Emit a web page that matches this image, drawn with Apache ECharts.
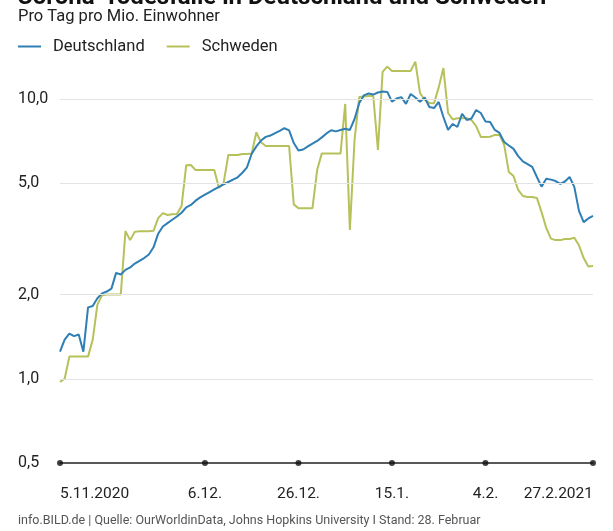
<!DOCTYPE html>
<html><head><meta charset="utf-8">
<script src="https://cdn.jsdelivr.net/npm/echarts@6/dist/echarts.min.js"></script>
<style>html,body{margin:0;padding:0;background:#fff}#c{width:613px;height:531px}</style>
</head><body><div id="c"></div>
<script>
// Days counted from 5.11.2020 (day 0) to 27.2.2021 (day 114)
const seriesNames = ['Deutschland', 'Schweden'];
const deutschland = [
  1.25,1.38,1.45,1.42,1.44,1.25,1.80,1.82,1.94,2.02,
  2.05,2.10,2.39,2.36,2.45,2.50,2.58,2.64,2.70,2.78,
  2.95,3.30,3.50,3.60,3.70,3.80,3.92,4.10,4.18,4.33,
  4.45,4.55,4.65,4.75,4.85,4.95,5.05,5.15,5.25,5.45,
  5.70,6.37,6.77,7.10,7.32,7.40,7.55,7.69,7.86,7.72,
  6.96,6.54,6.60,6.77,6.93,7.08,7.29,7.53,7.73,7.66,
  7.75,7.83,7.75,8.48,9.67,10.3,10.46,10.37,10.55,10.64,
  10.6,9.78,10.04,10.15,9.6,10.42,10.12,9.78,10.12,9.36,
  9.28,9.76,8.62,7.75,8.14,7.94,8.84,8.41,8.52,9.13,
  8.91,8.31,8.27,7.75,7.56,7.02,6.82,6.63,6.25,5.98,
  5.85,5.72,5.26,4.86,5.19,5.15,5.09,4.97,5.07,5.26,
  4.85,3.98,3.63,3.74,3.82
];
const schweden = [
  0.975,1.0,1.2,1.2,1.2,1.2,1.2,1.38,1.84,1.99,
  2.0,2.0,2.0,2.0,3.37,3.13,3.35,3.37,3.37,3.37,
  3.38,3.75,3.91,3.85,3.87,3.88,4.14,5.8,5.81,5.57,
  5.57,5.57,5.57,5.57,4.81,5.01,6.31,6.31,6.31,6.36,
  6.36,6.39,7.6,7.0,6.79,6.79,6.79,6.79,6.79,6.79,
  4.2,4.07,4.07,4.07,4.07,5.57,6.39,6.39,6.39,6.39,
  6.39,9.6,3.4,7.14,10.16,10.2,10.25,10.25,6.57,12.5,
  13.05,12.6,12.6,12.6,12.6,12.6,13.6,10.5,9.92,9.68,
  9.65,11.0,12.9,8.91,8.45,8.53,8.53,8.53,8.41,8.0,
  7.32,7.32,7.33,7.44,7.44,6.85,5.48,5.3,4.73,4.5,
  4.46,4.46,4.43,3.94,3.46,3.17,3.13,3.13,3.16,3.16,
  3.19,3.0,2.7,2.52,2.53
];
const tickDays = [0, 31, 51, 71, 91, 114];
const tickLabels = ['5.11.2020', '6.12.', '26.12.', '15.1.', '4.2.', '27.2.2021'];
const yTicks = [0.5, 1, 2, 5, 10];
const gridValues = [1, 2, 5, 10];

const titleText = 'Corona-Todesfälle in Deutschland und Schweden';
const subtitleText = 'Pro Tag pro Mio. Einwohner';
const sourceText = 'info.BILD.de | Quelle: OurWorldinData, Johns Hopkins University I Stand: 28. Februar';

const FONT = 'Roboto, "Noto Sans", sans-serif';
const BLUE = '#2f7fb5';
const GREEN = '#b7c15a';

const chart = echarts.init(document.getElementById('c'));
const toPairs = arr => arr.map((v, i) => [i, v]);

chart.setOption({
  backgroundColor: '#fff',
  animation: false,
  textStyle: { fontFamily: FONT },
  grid: { left: 60, right: 20, top: 55, bottom: 68, containLabel: false, outerBoundsMode: 'none' },
  legend: {
    left: 18, top: 38, padding: 0,
    itemWidth: 23, itemHeight: 2, itemGap: 22,
    icon: 'rect',
    textStyle: { fontSize: 16.5, color: '#222', fontFamily: FONT, padding: [0, 0, 0, 7] },
    data: seriesNames
  },
  graphic: [
    { type: 'text', left: 17, top: -14, style: { text: titleText, font: 'bold 24px ' + FONT, fill: '#111' } },
    { type: 'text', left: 18, top: 8, style: { text: subtitleText, font: '16.5px ' + FONT, fill: '#222' } },
    { type: 'text', left: 18, top: 514, style: { text: sourceText, font: '12.5px ' + FONT, fill: '#555' } }
  ],
  xAxis: {
    type: 'value', min: 0, max: 114,
    axisLine: { show: true, onZero: false, lineStyle: { color: '#222', width: 1.5 } },
    axisTick: { show: false },
    splitLine: { show: false },
    axisLabel: {
      customValues: tickDays,
      formatter: v => tickLabels[tickDays.indexOf(v)] || '',
      alignMinLabel: 'left', alignMaxLabel: 'right',
      margin: 23, fontSize: 15.5, color: '#222', fontFamily: FONT
    }
  },
  yAxis: {
    type: 'log', logBase: 2, min: 0.5, max: 14.36,
    axisLine: { show: false },
    axisTick: { show: false },
    splitLine: { show: false },
    axisLabel: {
      customValues: yTicks,
      formatter: v => Number(v).toFixed(1).replace('.', ','),
      align: 'left', margin: 42, fontSize: 16, color: '#222', fontFamily: FONT
    }
  },
  series: [
    {
      name: 'grid', type: 'line', data: [], silent: true, z: 1,
      markLine: {
        silent: true, symbol: 'none', label: { show: false },
        lineStyle: { color: '#e3e3e3', width: 1, type: 'solid' },
        data: gridValues.map(v => ({ yAxis: v }))
      }
    },
    {
      name: seriesNames[1], type: 'line', data: toPairs(schweden), showSymbol: false, symbol: 'none',
      color: GREEN, lineStyle: { color: GREEN, width: 2 }, z: 2, clip: false
    },
    {
      name: seriesNames[0], type: 'line', data: toPairs(deutschland), showSymbol: false, symbol: 'none',
      color: BLUE, lineStyle: { color: BLUE, width: 2 }, z: 3, clip: false
    },
    {
      name: 'ticks', type: 'scatter', data: tickDays.map(d => [d, 0.5]), symbol: 'circle', symbolSize: 6,
      itemStyle: { color: '#111' }, clip: false, silent: true, z: 4
    }
  ]
});
</script>
</body></html>
